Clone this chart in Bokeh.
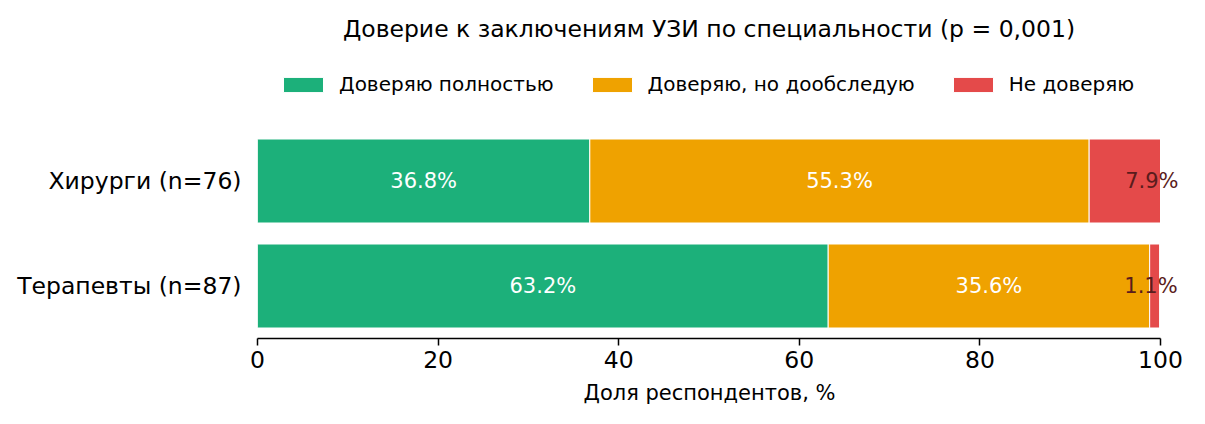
from bokeh.plotting import figure
from bokeh.models import (ColumnDataSource, LabelSet, Label, Legend, LegendItem, Range1d,
                          SingleIntervalTicker, FixedTicker, Title)
from bokeh.core.properties import value
from bokeh.embed import file_html
from bokeh.resources import INLINE

groups = ["Хирурги (n=76)", "Терапевты (n=87)"]
full = [36.8, 63.2]
partial = [55.3, 35.6]
distrust = [7.9, 1.1]
series = ["Доверяю полностью", "Доверяю, но дообследую", "Не доверяю"]
colors = ["#1cb07a", "#efa200", "#e44a4a"]
FONT = "DejaVu Sans"

# геометрия: рамка начинается с самого верха, чтобы заголовок и легенда не обрезались
W, H = 1190, 415
LEFT, BOTTOM = 257, 77
PX_X = 9.03    # пикселей на 1 %
PX_Y = 105     # пикселей на одну строку
frame_h = H - BOTTOM
frame_w = W - LEFT

ypos = [len(groups) - 1 - i for i in range(len(groups))]
src = ColumnDataSource(dict(y=ypos, full=full, partial=partial, distrust=distrust))

p = figure(width=W, height=H,
           x_range=Range1d(0, frame_w / PX_X),
           y_range=Range1d(-0.5, -0.5 + frame_h / PX_Y),
           output_backend="svg", toolbar_location=None,
           min_border_left=LEFT, min_border_right=0, min_border_top=0, min_border_bottom=BOTTOM)
p.outline_line_color = None
p.grid.visible = False

rs = p.hbar_stack(["full", "partial", "distrust"], y="y", height=0.8, color=colors,
                  line_color="white", line_width=1, source=src)

legend = Legend(items=[LegendItem(label=s, renderers=[r]) for s, r in zip(series, rs)],
                orientation="horizontal", location=(21, 242), glyph_width=50, glyph_height=19,
                label_standoff=11, spacing=33, padding=0, margin=0,
                label_text_font=FONT, label_text_font_size="20px", label_text_color="black",
                border_line_color=None, background_fill_alpha=0)
p.add_layout(legend, "center")

p.add_layout(Label(x=50, y=-0.5 + (frame_h - 28) / PX_Y,
                   text="Доверие к заключениям УЗИ по специальности (p = 0,001)",
                   text_align="center", text_baseline="middle", text_color="black",
                   text_font=FONT, text_font_size="23.5px"))

# подписи сегментов
xs, ys, txt, tcol, talign = [], [], [], [], []
for i in range(len(groups)):
    left = 0
    for vals in (full, partial, distrust):
        v = vals[i]
        if v < 10:
            xs.append(left + v + 2)
            tcol.append("#5a1c1c")
            talign.append("right")
        else:
            xs.append(left + v / 2)
            tcol.append("white")
            talign.append("center")
        ys.append(ypos[i])
        txt.append(f"{v:.1f}%")
        left += v
lab_src = ColumnDataSource(dict(x=xs, y=ys, text=txt, color=tcol, align=talign))
p.add_layout(LabelSet(x="x", y="y", text="text", source=lab_src, text_color="color",
                      text_align="align", text_baseline="middle",
                      text_font=value(FONT), text_font_size="21px"))

p.xaxis.ticker = SingleIntervalTicker(interval=20)
p.xaxis.bounds = (0, 100)
p.xaxis.major_label_text_font = FONT
p.xaxis.major_label_text_font_size = "23.5px"
p.xaxis.major_label_text_color = "black"
p.xaxis.major_label_standoff = 5
p.xaxis.major_tick_out = 7
p.xaxis.major_tick_in = 0
p.xaxis.minor_tick_line_color = None
p.xaxis.axis_line_width = 1.5
p.xaxis.axis_line_color = "black"
p.xaxis.major_tick_line_width = 1.5
p.xaxis.major_tick_line_color = "black"

# подпись оси X: по центру отрезка 0..100, а не всей рамки
xlabel = Title(text="Доля респондентов, %", align="left", offset=326, standoff=16,
               text_font=FONT, text_font_size="21px", text_font_style="normal",
               text_color="black")
p.add_layout(xlabel, "below")

p.yaxis.ticker = FixedTicker(ticks=ypos)
p.yaxis.major_label_overrides = {y: g for y, g in zip(ypos, groups)}
p.yaxis.axis_line_color = None
p.yaxis.major_tick_line_color = None
p.yaxis.minor_tick_line_color = None
p.yaxis.major_label_text_font = FONT
p.yaxis.major_label_text_font_size = "23.5px"
p.yaxis.major_label_text_color = "black"
p.yaxis.major_label_standoff = 10

open("out.html", "w").write(file_html(p, INLINE))
